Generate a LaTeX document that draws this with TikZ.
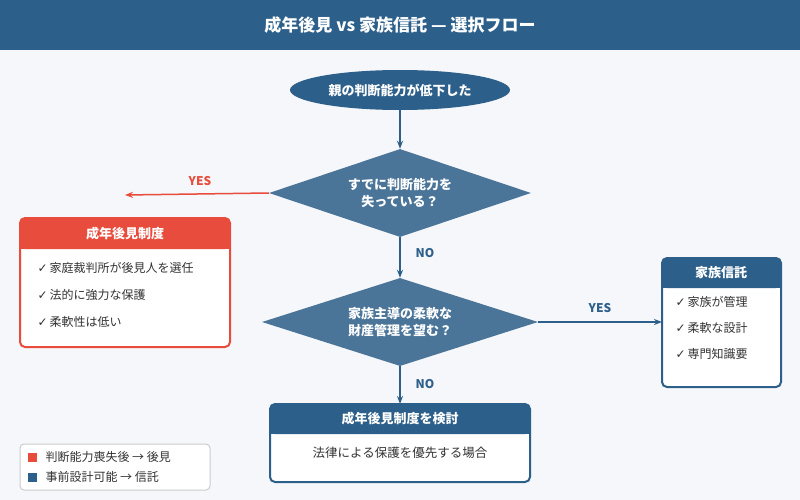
\documentclass[tikz,border=0pt]{standalone}
\usepackage{fontspec}
\setmainfont{Noto Sans CJK JP}
\newfontfamily\symfont{DejaVu Sans}
\usetikzlibrary{shapes.geometric,arrows.meta}
\definecolor{navy}{HTML}{2C5F8A}
\definecolor{steel}{HTML}{4A7599}
\definecolor{alert}{HTML}{E74C3C}
\definecolor{paper}{HTML}{F5F7FA}
\newcommand{\chk}{{\symfont\char"2713}\,}
\tikzset{
  flow/.style={navy,line width=1.5pt,-{Stealth[length=8pt]}},
  decide/.style={diamond,aspect=3,fill=steel,text=white,font=\fontsize{13}{17}\selectfont\bfseries,
    minimum width=262pt,minimum height=88pt,inner sep=0pt,align=center,text width=110pt},
  head/.style={white,font=\fontsize{13}{15}\selectfont\bfseries},
  item/.style={anchor=west,font=\fontsize{12}{14}\selectfont,black!80},
  tag/.style={font=\fontsize{12}{14}\selectfont\bfseries}
}
\begin{document}
\begin{tikzpicture}[x=1pt,y=-1pt]
  \useasboundingbox (0,0) rectangle (800,500);
  \fill [paper] (0,0) rectangle (800,500);
  \fill [navy] (0,0) rectangle (800,50);
  \node [white,font=\fontsize{17}{19}\selectfont\bfseries] (title) at (400,25) {成年後見 vs 家族信託 — 選択フロー};
  % start
  \node [ellipse,fill=navy,text=white,font=\fontsize{13}{15}\selectfont\bfseries,
    minimum width=220pt,minimum height=40pt] (start) at (400,90) {親の判断能力が低下した};
  \node [decide] (lost) at (400,193) {すでに判断能力を\\失っている？};
  \node [decide,minimum width=276pt] (family) at (400,322) {家族主導の柔軟な\\財産管理を望む？};
  % guardianship box
  \draw [alert,line width=2pt,fill=white,rounded corners=5pt] (20,218) rectangle (230,347);
  \fill [alert,rounded corners=5pt] (20,218) rectangle (230,249);
  \fill [alert] (21,238) rectangle (229,249);
  \node [head] (guard) at (125,234) {成年後見制度};
  \node [item] at (34,268) {\chk 家庭裁判所が後見人を選任};
  \node [item] at (34,295) {\chk 法的に強力な保護};
  \node [item] at (34,322) {\chk 柔軟性は低い};
  \coordinate (guardtip) at (125,195);
  % trust box
  \draw [navy,line width=2pt,fill=white,rounded corners=5pt] (662,258) rectangle (781,387);
  \fill [navy,rounded corners=5pt] (662,258) rectangle (781,288);
  \fill [navy] (663,278) rectangle (780,288);
  \node [head] (trust) at (721,273) {家族信託};
  \node [item] at (672,302) {\chk 家族が管理};
  \node [item] at (672,328) {\chk 柔軟な設計};
  \node [item] at (672,354) {\chk 専門知識要};
  \coordinate (trustin) at (662,322);
  % review box
  \draw [navy,line width=2pt,fill=white,rounded corners=5pt] (270,404) rectangle (530,482);
  \fill [navy,rounded corners=5pt] (270,404) rectangle (530,434);
  \fill [navy] (271,424) rectangle (529,434);
  \node [head] (review) at (400,419) {成年後見制度を検討};
  \node [font=\fontsize{12.5}{14}\selectfont,black!80] at (400,453) {法律による保護を優先する場合};
  \coordinate (reviewin) at (400,404);
  % connectors
  \draw [flow] (start) -- (lost);
  \draw [flow,alert] (lost.west) -- (guardtip);
  \node [tag,alert] at (200,181) {YES};
  \draw [flow] (lost.south) -- (family.north);
  \node [tag,navy] at (425,253) {NO};
  \draw [flow] (family.east) -- (trustin);
  \node [tag,navy] at (600,308) {YES};
  \draw [flow] (family.south) -- (reviewin);
  \node [tag,navy] at (425,384) {NO};
  % legend
  \draw [black!20,line width=1pt,fill=white,rounded corners=4pt] (20,444) rectangle (210,490);
  \fill [alert] (28,453) rectangle (37,462);
  \node [item] at (42,457) {判断能力喪失後 → 後見};
  \fill [navy] (28,473) rectangle (37,482);
  \node [item] at (42,477) {事前設計可能 → 信託};
\end{tikzpicture}
\end{document}
